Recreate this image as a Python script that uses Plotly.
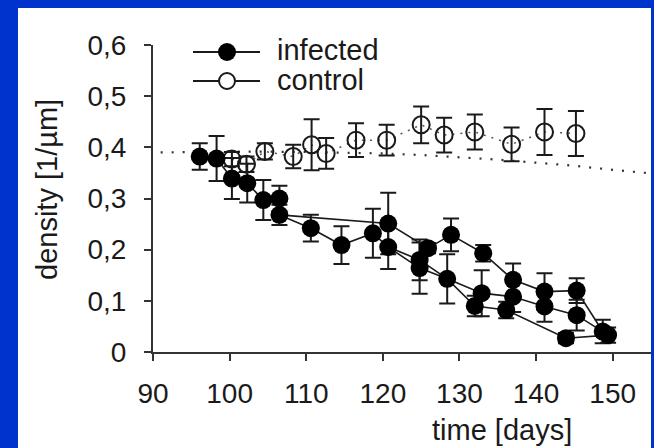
import plotly.graph_objects as go

# ---------------- data ----------------
# infected (filled circles): day, density, error
inf_days = [96.1, 98.3, 100.3, 102.3, 104.4, 106.5, 106.5, 110.6, 114.6, 118.7,
            120.7, 120.7, 124.8, 124.8, 125.9, 128.9, 128.4, 133.1, 132.9, 132.0,
            137.0, 137.0, 136.1, 141.1, 141.1, 145.3, 145.3, 143.9, 148.7, 149.4]
inf_vals = [0.382, 0.378, 0.339, 0.330, 0.297, 0.300, 0.268, 0.242, 0.209, 0.232,
            0.251, 0.205, 0.180, 0.164, 0.203, 0.229, 0.143, 0.193, 0.115, 0.090,
            0.141, 0.108, 0.082, 0.118, 0.089, 0.120, 0.072, 0.027, 0.040, 0.033]
inf_err = [0.026, 0.044, 0.040, 0.038, 0.039, 0.025, 0.020, 0.026, 0.037, 0.048,
           0.060, 0.043, 0.040, 0.050, 0.010, 0.032, 0.048, 0.016, 0.045, 0.020,
           0.032, 0.030, 0.016, 0.036, 0.030, 0.024, 0.030, 0.010, 0.023, 0.015]
# connectivity of the infected trajectories (indices into the lists above)
inf_tracks = [
    [0, 1, 2, 3, 4, 5, 6, 7, 8, 9, 11, 12, 16, 19, 22, 27, 29],
    [6, 10, 14, 15, 17, 20, 23, 25, 28],
    [11, 13, 16, 18, 21, 24, 26, 29],
]

# control (open circles)
ctl_days = [100.3, 102.2, 104.6, 108.3, 110.7, 112.6, 116.5, 120.5, 125.0, 128.0,
            132.0, 136.8, 141.1, 145.2]
ctl_vals = [0.377, 0.367, 0.392, 0.382, 0.405, 0.388, 0.414, 0.414, 0.444, 0.424,
            0.430, 0.406, 0.430, 0.427]
ctl_err = [0.014, 0.015, 0.016, 0.023, 0.050, 0.030, 0.033, 0.030, 0.036, 0.034,
           0.034, 0.033, 0.045, 0.044]

# dotted reference curve
ref_days = [91, 100, 110, 120, 125, 130, 135, 140, 145, 150, 155]
ref_vals = [0.390, 0.392, 0.391, 0.388, 0.385, 0.381, 0.376, 0.370, 0.364, 0.356, 0.349]

x_ticks = [90, 100, 110, 120, 130, 140, 150]
y_ticks = [0, 0.1, 0.2, 0.3, 0.4, 0.5, 0.6]
y_ticktext = ["0", "0,1", "0,2", "0,3", "0,4", "0,5", "0,6"]

series_names = ["infected", "control"]
x_title = "time [days]"
y_title = "density [1/µm]"

# ---------------- layout constants ----------------
W, H = 654, 448
L, R, T, B = 153, 3, 45, 96
PW, PH = W - L - R, H - T - B
FONT = "Arial, Liberation Sans, Helvetica, sans-serif"
INK = "#1a1a1a"
BLUE = "rgb(0,51,204)"


def pxx(x):
    return (x - L) / PW


def pxy(y):
    return (H - B - y) / PH


fig = go.Figure()

# reference dotted curve
fig.add_trace(go.Scatter(x=ref_days, y=ref_vals, mode="lines",
                         line=dict(color="#333333", width=2.2, dash="2px,9px"),
                         hoverinfo="skip", showlegend=False))

# control connecting line (dotted) + points
fig.add_trace(go.Scatter(x=ctl_days, y=ctl_vals, mode="lines",
                         line=dict(color="#555555", width=1.5, dash="2px,6px"),
                         hoverinfo="skip", showlegend=False))
fig.add_trace(go.Scatter(
    x=ctl_days, y=ctl_vals, mode="markers", name=series_names[1],
    marker=dict(symbol="circle-open", size=17, color=INK, line=dict(width=2, color=INK)),
    error_y=dict(type="data", array=ctl_err, color=INK, thickness=2, width=8),
    cliponaxis=False, showlegend=False))

# infected trajectories
for tr in inf_tracks:
    fig.add_trace(go.Scatter(x=[inf_days[i] for i in tr], y=[inf_vals[i] for i in tr],
                             mode="lines", line=dict(color=INK, width=1.6),
                             hoverinfo="skip", showlegend=False))
fig.add_trace(go.Scatter(
    x=inf_days, y=inf_vals, mode="markers", name=series_names[0],
    marker=dict(symbol="circle", size=18, color="black", line=dict(width=0)),
    error_y=dict(type="data", array=inf_err, color=INK, thickness=2, width=8),
    cliponaxis=False, showlegend=False))

shapes = [
    # white slide area
    dict(type="rect", xref="paper", yref="paper", layer="below",
         x0=pxx(18), x1=pxx(651), y0=pxy(448), y1=pxy(8),
         fillcolor="white", line=dict(width=0)),
    # legend lines
    dict(type="line", xref="paper", yref="paper", x0=pxx(193), x1=pxx(260),
         y0=pxy(52), y1=pxy(52), line=dict(color=INK, width=2)),
    dict(type="line", xref="paper", yref="paper", x0=pxx(193), x1=pxx(260),
         y0=pxy(81), y1=pxy(81), line=dict(color=INK, width=2)),
    # legend markers
    dict(type="circle", xref="paper", yref="paper", xsizemode="pixel", ysizemode="pixel",
         xanchor=pxx(227), yanchor=pxy(52), x0=-9, x1=9, y0=-9, y1=9,
         fillcolor="black", line=dict(width=0)),
    dict(type="circle", xref="paper", yref="paper", xsizemode="pixel", ysizemode="pixel",
         xanchor=pxx(227), yanchor=pxy(81), x0=-8, x1=8, y0=-8, y1=8,
         fillcolor="white", line=dict(width=2, color=INK)),
]

annotations = [
    dict(text=series_names[0], xref="paper", yref="paper", x=pxx(275), y=pxy(50),
         xanchor="left", yanchor="middle", showarrow=False,
         font=dict(family=FONT, size=29, color=INK)),
    dict(text=series_names[1], xref="paper", yref="paper", x=pxx(275), y=pxy(80),
         xanchor="left", yanchor="middle", showarrow=False,
         font=dict(family=FONT, size=29, color=INK)),
    dict(text=x_title, xref="paper", yref="paper", x=pxx(502), y=pxy(430),
         xanchor="center", yanchor="middle", showarrow=False,
         font=dict(family=FONT, size=29, color=INK)),
    dict(text=y_title, xref="paper", yref="paper", x=pxx(47), y=pxy(190),
         xanchor="center", yanchor="middle", showarrow=False, textangle=-90,
         font=dict(family=FONT, size=29, color=INK)),
]

fig.update_layout(
    width=W, height=H,
    margin=dict(l=L, r=R, t=T, b=B, pad=0),
    paper_bgcolor=BLUE, plot_bgcolor="white",
    showlegend=False,
    shapes=shapes, annotations=annotations,
    font=dict(family=FONT, size=28, color=INK),
    xaxis=dict(range=[90, 155], tickvals=x_ticks, showgrid=False, zeroline=False,
               showline=True, linecolor="#333333", linewidth=2,
               ticks="outside", ticklen=7, tickwidth=2, tickcolor="#333333",
               tickfont=dict(family=FONT, size=28, color=INK), ticklabelstandoff=8),
    yaxis=dict(range=[0, 0.6], tickvals=y_ticks, ticktext=y_ticktext, showgrid=False,
               zeroline=False, showline=True, linecolor="#333333", linewidth=2,
               ticks="outside", ticklen=7, tickwidth=2, tickcolor="#333333",
               tickfont=dict(family=FONT, size=28, color=INK), ticklabelstandoff=12),
)

fig.write_html(
    "out.html",
    config={"displayModeBar": False},
    post_script="document.body.style.margin='0';document.body.style.overflow='hidden';",
)
